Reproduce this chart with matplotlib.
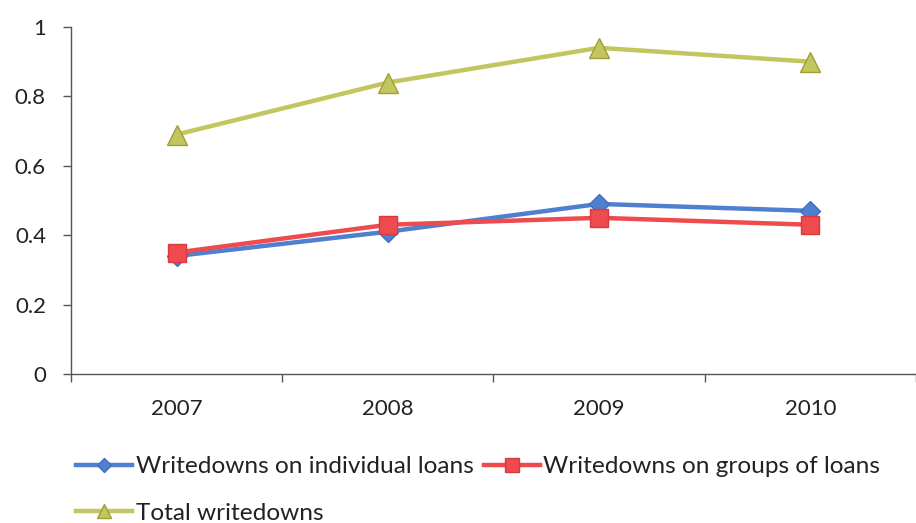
import matplotlib
matplotlib.use('Agg')
import matplotlib.pyplot as plt
import numpy as np

plt.rcParams['font.family'] = ['Lato', 'DejaVu Sans']

years = ['2007', '2008', '2009', '2010']
individual = [0.34, 0.41, 0.49, 0.47]
groups = [0.35, 0.43, 0.45, 0.43]
total = [0.69, 0.84, 0.94, 0.90]
y_ticks = [0, 0.2, 0.4, 0.6, 0.8, 1]

BLUE = '#4F7FCF'
RED = '#EE4B4F'
OLIVE = '#C3C55E'

fig = plt.figure(figsize=(9.16, 5.23), dpi=100)
ax = fig.add_axes([0.0775, 0.285, 0.9225, 0.6634])

x = np.arange(len(years))
h_ind, = ax.plot(x, individual, color=BLUE, lw=3.2, marker='D', markersize=10,
                 markerfacecolor=BLUE, markeredgecolor='#3f6fbf', zorder=3,
                 label='Writedowns on individual loans')
h_grp, = ax.plot(x, groups, color=RED, lw=3.2, marker='s', markersize=13,
                 markerfacecolor=RED, markeredgecolor='#d83a3e', zorder=4,
                 label='Writedowns on groups of loans')
h_tot, = ax.plot(x, total, color=OLIVE, lw=3.2, marker='^', markersize=14,
                 markerfacecolor=OLIVE, markeredgecolor='#9f9f3a', zorder=3,
                 label='Total writedowns')

ax.set_ylim(0, 1)
ax.set_xlim(-0.5, 3.486)
ax.set_yticks(y_ticks)
ax.set_yticklabels([f'{v:g}' for v in y_ticks])

# tick marks between categories, labels at the centres
ax.set_xticks(np.arange(-0.5, len(years), 1))
ax.set_xticklabels([])
ax.set_xticks(x, minor=True)
ax.set_xticklabels(years, minor=True)
ax.tick_params(axis='x', which='major', direction='out', length=6, width=1, color='#555555')
ax.tick_params(axis='x', which='minor', length=0, pad=18, labelsize=16, labelcolor='#222222')
ax.tick_params(axis='y', direction='out', length=6, width=1, color='#555555',
               pad=12, labelsize=16, labelcolor='#222222')

for side in ['top', 'right']:
    ax.spines[side].set_visible(False)
for side in ['left', 'bottom']:
    ax.spines[side].set_color('#555555')
    ax.spines[side].set_linewidth(1)

# order so that row 1 = individual, groups and row 2 = total
fig.legend([h_ind, h_tot, h_grp],
           [h_ind.get_label(), h_tot.get_label(), h_grp.get_label()],
           ncol=2, loc='upper left', bbox_to_anchor=(0.083, 0.128),
           frameon=False, fontsize=17.6, handlelength=2.3, handletextpad=0.15,
           columnspacing=0.4, labelspacing=1.05, borderpad=0, borderaxespad=0,
           markerscale=0.75, labelcolor='#222222')

fig.savefig('out.png', dpi=100)
